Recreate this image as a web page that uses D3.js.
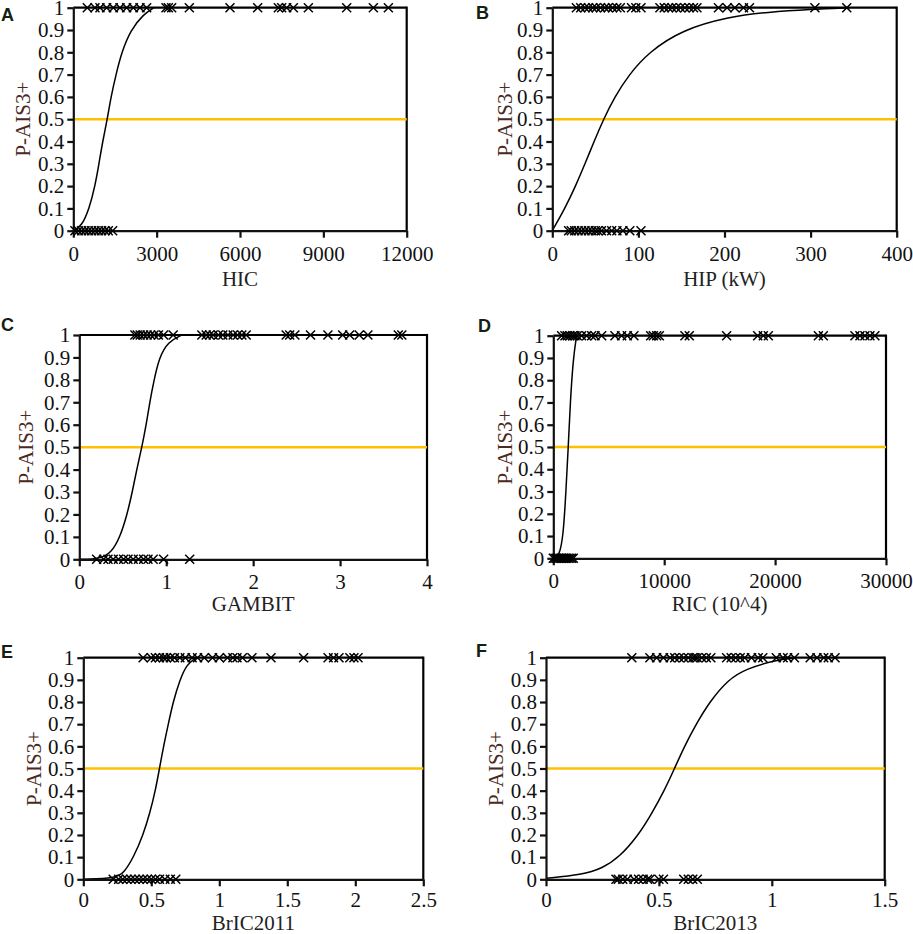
<!DOCTYPE html>
<html>
<head>
<meta charset="utf-8">
<script src="https://cdn.jsdelivr.net/npm/d3@7"></script>
<style>
  body { margin: 0; background: #fff; }
  svg { display: block; }
</style>
</head>
<body>
<svg width="913" height="934"></svg>
<script>
// shared y ticks
var yTicks = [0, 0.1, 0.2, 0.3, 0.4, 0.5, 0.6, 0.7, 0.8, 0.9, 1];

// A - HIC
var hicTicks = [0, 3000, 6000, 9000, 12000];
var hicInjured = [504, 780, 960, 1200, 1440, 1680, 1920, 2160, 2400, 2640, 3336, 3420, 3540, 4176, 5640, 6636, 7380, 7500, 7680, 7920, 8460, 9840, 10800, 11340];
var hicUninjured = [60, 180, 300, 420, 540, 660, 780, 900, 1020, 1140, 1260, 1416];
var hicCurveX = [0, 300, 576, 780, 924, 1056, 1224, 1356, 1536, 1740, 2064, 2520, 2900];
var hicCurveY = [0, 0.02, 0.1, 0.2, 0.3, 0.4, 0.5, 0.6, 0.7, 0.8, 0.9, 0.97, 1];

// B - HIP
var hipTicks = [0, 100, 200, 300, 400];
var hipInjured = [28, 33, 38, 42, 47, 51, 56, 61, 65, 70, 75, 79, 92, 97, 103, 125, 130, 135, 139, 144, 149, 154, 159, 164, 168, 193, 203, 212, 222, 229, 305, 342];
var hipUninjured = [19, 22, 26, 30, 34, 38, 42, 46, 50, 53, 57, 63, 69, 75, 82, 90, 103];
var hipCurveX = [0, 14.7, 27, 38, 48.5, 59.5, 72.5, 89, 112, 150, 206, 250, 300, 345];
var hipCurveY = [0, 0.1, 0.2, 0.3, 0.4, 0.5, 0.6, 0.7, 0.8, 0.9, 0.96, 0.98, 0.993, 1];

// C - GAMBIT
var gambitTicks = [0, 1, 2, 3, 4];
var gambitInjured = [0.64, 0.667, 0.70, 0.74, 0.78, 0.82, 0.86, 0.91, 0.97, 1.08, 1.41, 1.46, 1.50, 1.54, 1.60, 1.65, 1.71, 1.77, 1.82, 1.87, 1.92, 2.38, 2.42, 2.48, 2.66, 2.86, 3.03, 3.11, 3.22, 3.32, 3.67, 3.71];
var gambitUninjured = [0.20, 0.28, 0.33, 0.39, 0.45, 0.51, 0.56, 0.62, 0.68, 0.74, 0.79, 0.85, 0.97, 1.27];
var gambitCurveX = [0, 0.24, 0.37, 0.47, 0.55, 0.61, 0.66, 0.72, 0.77, 0.81, 0.86, 0.92, 1.02, 1.18];
var gambitCurveY = [0, 0.002, 0.03, 0.1, 0.2, 0.3, 0.4, 0.5, 0.6, 0.7, 0.8, 0.9, 0.97, 1];

// D - RIC
var ricTicks = [0, 10000, 20000, 30000];
var ricInjured = [750, 1050, 1260, 1500, 1740, 1950, 2160, 2550, 3000, 3460, 3760, 4360, 5560, 6160, 6670, 7270, 8780, 9020, 9320, 9560, 11870, 12260, 15630, 18430, 18940, 19390, 23900, 24350, 27200, 27650, 28100, 28550, 29000];
var ricUninjured = [0, 150, 300, 450, 600, 750, 900, 1050, 1200, 1350, 1500, 1650, 1800];
var ricCurveX = [0, 540, 900, 1140, 1350, 1530, 1800, 2100];
var ricCurveY = [0, 0.01, 0.1, 0.3, 0.5, 0.7, 0.9, 1];

// E - BrIC2011
var bric11Ticks = [0, 0.5, 1, 1.5, 2, 2.5];
var bric11Injured = [0.44, 0.50, 0.53, 0.56, 0.59, 0.61, 0.64, 0.67, 0.71, 0.75, 0.80, 0.84, 0.89, 0.95, 1.00, 1.06, 1.10, 1.13, 1.17, 1.24, 1.38, 1.62, 1.80, 1.84, 1.88, 1.96, 1.99, 2.02];
var bric11Uninjured = [0.22, 0.26, 0.29, 0.32, 0.35, 0.38, 0.41, 0.44, 0.47, 0.50, 0.53, 0.56, 0.60, 0.64, 0.68];
var bric11CurveX = [0, 0.24, 0.3, 0.37, 0.44, 0.49, 0.53, 0.56, 0.59, 0.625, 0.66, 0.71, 0.76, 0.83];
var bric11CurveY = [0, 0.005, 0.03, 0.1, 0.2, 0.3, 0.4, 0.5, 0.6, 0.7, 0.8, 0.9, 0.97, 1];

// F - BrIC2013
var bric13Ticks = [0, 0.5, 1, 1.5];
var bric13Injured = [0.38, 0.46, 0.49, 0.52, 0.55, 0.57, 0.59, 0.61, 0.63, 0.65, 0.66, 0.67, 0.69, 0.71, 0.73, 0.80, 0.82, 0.84, 0.86, 0.88, 0.91, 0.94, 0.96, 1.02, 1.05, 1.07, 1.10, 1.17, 1.20, 1.23, 1.25, 1.28];
var bric13Uninjured = [0.31, 0.32, 0.34, 0.36, 0.39, 0.41, 0.43, 0.45, 0.46, 0.50, 0.52, 0.61, 0.63, 0.65, 0.67];
var bric13CurveX = [0, 0.16, 0.25, 0.325, 0.41, 0.47, 0.524, 0.569, 0.613, 0.665, 0.724, 0.805, 0.886, 1.02, 1.11];
var bric13CurveY = [0.005, 0.02, 0.05, 0.1, 0.2, 0.3, 0.4, 0.5, 0.6, 0.7, 0.8, 0.9, 0.95, 0.99, 1];

var svg = d3.select("svg");

var serif = "Liberation Serif, Times New Roman, serif";

// layout: plot box in pixels, label/title offsets
var panels = [
  {tag: "A", title: "HIC", ticks: hicTicks, hi: hicInjured, lo: hicUninjured, cx: hicCurveX, cy: hicCurveY,
   box: [73.3, 406.7, 7.7, 230.7], tagPos: [1, 21], titleDy: 55, yTitleDx: 43, pad: 8},
  {tag: "B", title: "HIP (kW)", ticks: hipTicks, hi: hipInjured, lo: hipUninjured, cx: hipCurveX, cy: hipCurveY,
   box: [552.3, 896.7, 7.7, 230.7], tagPos: [476, 19], titleDy: 55, yTitleDx: 40, pad: 8},
  {tag: "C", title: "GAMBIT", ticks: gambitTicks, hi: gambitInjured, lo: gambitUninjured, cx: gambitCurveX, cy: gambitCurveY,
   box: [79.3, 427, 335, 559.3], tagPos: [1, 331], titleDy: 52, yTitleDx: 46, pad: 8},
  {tag: "D", title: "RIC (10^4)", ticks: ricTicks, hi: ricInjured, lo: ricUninjured, cx: ricCurveX, cy: ricCurveY,
   box: [553.3, 886, 335.7, 558.3], tagPos: [478, 332], titleDy: 53, yTitleDx: 41, pad: 8},
  {tag: "E", title: "BrIC2011", ticks: bric11Ticks, hi: bric11Injured, lo: bric11Uninjured, cx: bric11CurveX, cy: bric11CurveY,
   box: [83.3, 423.3, 657.7, 879.3], tagPos: [1, 658], titleDy: 51, yTitleDx: 42, pad: 6},
  {tag: "F", title: "BrIC2013", ticks: bric13Ticks, hi: bric13Injured, lo: bric13Uninjured, cx: bric13CurveX, cy: bric13CurveY,
   box: [546, 884.7, 657.7, 879.3], tagPos: [476, 657], titleDy: 51, yTitleDx: 43, pad: 6}
];

var crossPath = "M-4.5,-4.5L4.5,4.5M-4.5,4.5L4.5,-4.5";

panels.forEach(function(p) {
  var x = d3.scaleLinear()
      .domain([p.ticks[0], p.ticks[p.ticks.length - 1]])
      .range([p.box[0], p.box[1]]);
  var y = d3.scaleLinear().domain([0, 1]).range([p.box[3], p.box[2]]);

  var g = svg.append("g");

  // frame top / right
  g.append("line")
      .attr("x1", x.range()[0]).attr("x2", x.range()[1])
      .attr("y1", y(1)).attr("y2", y(1))
      .attr("stroke", "#000").attr("stroke-width", 2.2);
  g.append("line")
      .attr("x1", x.range()[1]).attr("x2", x.range()[1])
      .attr("y1", y(1) - 1.1).attr("y2", y(0))
      .attr("stroke", "#000").attr("stroke-width", 2.2);

  // threshold line at 0.5
  g.append("line")
      .attr("x1", x.range()[0]).attr("x2", x.range()[1])
      .attr("y1", y(0.5)).attr("y2", y(0.5))
      .attr("stroke", "#FFC000").attr("stroke-width", 2.5);

  // fitted curve
  var pts = p.cx.map(function(d, i) { return [d, p.cy[i]]; });
  g.append("path")
      .datum(pts)
      .attr("fill", "none")
      .attr("stroke", "#000")
      .attr("stroke-width", 1.5)
      .attr("d", d3.line()
          .x(function(d) { return x(d[0]); })
          .y(function(d) { return y(d[1]); })
          .curve(d3.curveBasis));

  // axes
  var xAxis = g.append("g")
      .attr("transform", "translate(0," + y(0) + ")")
      .call(d3.axisBottom(x).tickValues(p.ticks).tickSize(7).tickSizeOuter(0).tickPadding(p.pad)
          .tickFormat(function(d) { return String(d); }));
  var yAxis = g.append("g")
      .attr("transform", "translate(" + x.range()[0] + ",0)")
      .call(d3.axisLeft(y).tickValues(yTicks).tickSize(6).tickSizeOuter(0).tickPadding(3)
          .tickFormat(function(d) { return String(d); }));
  [xAxis, yAxis].forEach(function(a) {
    a.attr("color", "#111");
    a.selectAll("text").attr("font-family", serif).attr("font-size", "21px");
    a.select(".domain").attr("stroke-width", 2.2);
    a.selectAll(".tick line").attr("stroke-width", 2.2);
  });

  // observations
  g.selectAll(".hi")
      .data(p.hi)
      .enter().append("path")
      .attr("d", crossPath)
      .attr("transform", function(d) { return "translate(" + x(d) + "," + y(1) + ")"; })
      .attr("stroke", "#000").attr("stroke-width", 1.5).attr("fill", "none");
  g.selectAll(".lo")
      .data(p.lo)
      .enter().append("path")
      .attr("d", crossPath)
      .attr("transform", function(d) { return "translate(" + x(d) + "," + y(0) + ")"; })
      .attr("stroke", "#000").attr("stroke-width", 1.5).attr("fill", "none");

  // titles
  g.append("text")
      .attr("x", (x.range()[0] + x.range()[1]) / 2)
      .attr("y", y(0) + p.titleDy)
      .attr("text-anchor", "middle")
      .attr("font-family", serif)
      .attr("font-size", "21px")
      .attr("fill", "#222")
      .text(p.title);
  g.append("text")
      .attr("transform", "translate(" + (x.range()[0] - p.yTitleDx) + "," + ((y(0) + y(1)) / 2) + ") rotate(-90)")
      .attr("text-anchor", "middle")
      .attr("font-family", serif)
      .attr("font-size", "21px")
      .attr("fill", "#4a2a22")
      .text("P-AIS3+");

  svg.append("text")
      .attr("x", p.tagPos[0])
      .attr("y", p.tagPos[1])
      .attr("font-family", "Liberation Sans, Arial, sans-serif")
      .attr("font-weight", "bold")
      .attr("font-size", "18px")
      .attr("fill", "#132013")
      .text(p.tag);
});
</script>
</body>
</html>
